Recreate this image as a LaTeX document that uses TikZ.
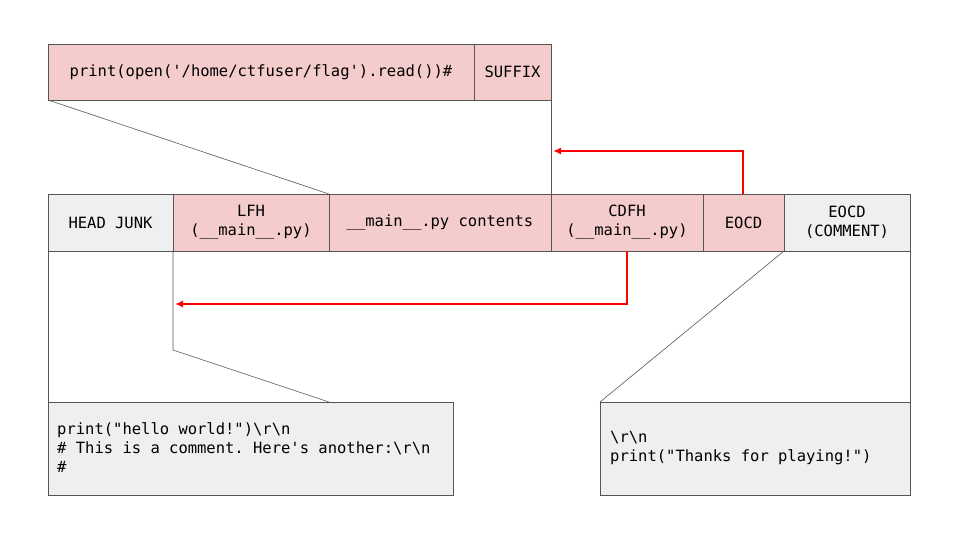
\documentclass[tikz,border=0pt]{standalone}
\usepackage{fontspec}
\setmonofont{DejaVu Sans Mono}
\usetikzlibrary{arrows.meta}
\definecolor{pk}{HTML}{F4CCCC}
\definecolor{gr}{HTML}{EFEFEF}
\definecolor{ln}{HTML}{555555}
\begin{document}
\begin{tikzpicture}[x=1pt,y=-1pt,
  cell/.style={draw=ln,line width=0.6pt,font=\ttfamily\fontsize{15.5}{19}\selectfont,align=center},
  thin/.style={draw=ln,line width=0.6pt},
  red/.style={draw=red,line width=1.6pt,-{Latex[length=8pt,width=7pt]}}]
\useasboundingbox (0,0) rectangle (960,540);
% top box
\path[cell,fill=pk] (48,44) rectangle (474,100) node[midway,draw=none] (t1) {print(open('/home/ctfuser/flag').read())\#};
\path[cell,fill=pk] (474,44) rectangle (551,100) node[midway,draw=none] (t2) {SUFFIX};
% middle row
\path[cell,fill=gr] (48,194) rectangle (173,251) node[midway,draw=none] (m1) {HEAD JUNK};
\path[cell,fill=pk] (173,194) rectangle (329,251) node[midway,draw=none] (m2) {LFH\\(\_\_main\_\_.py)};
\path[cell,fill=pk] (329,194) rectangle (551,251) node[midway,draw=none] (m3) {\_\_main\_\_.py contents};
\path[cell,fill=pk] (551,194) rectangle (703,251) node[midway,draw=none] (m4) {CDFH\\(\_\_main\_\_.py)};
\path[cell,fill=pk] (703,194) rectangle (784,251) node[midway,draw=none] (m5) {EOCD};
\path[cell,fill=gr] (784,194) rectangle (910,251) node[midway,draw=none] (m6) {EOCD\\(COMMENT)};
% bottom boxes
\path[cell,fill=gr] (48,402) rectangle (453,495);
\node[font=\ttfamily\fontsize{15.5}{19}\selectfont,align=left,anchor=north west,inner sep=0pt] (b1) at (57,422) {print("hello world!")\textbackslash r\textbackslash n\\\# This is a comment. Here's another:\textbackslash r\textbackslash n\\\#};
\path[cell,fill=gr] (600,402) rectangle (910,495);
\node[font=\ttfamily\fontsize{15.5}{19}\selectfont,align=left,anchor=north west,inner sep=0pt] (b2) at (610,431) {\textbackslash r\textbackslash n\\print("Thanks for playing!")};
% zoom lines
\coordinate (z1) at (48,100); \coordinate (z2) at (329,194);
\draw[thin] (z1) -- (z2);
\coordinate (z3) at (551,100); \coordinate (z4) at (551,194);
\draw[thin] (z3) -- (z4);
\coordinate (z5) at (173,251); \coordinate (z6) at (173,350); \coordinate (z7) at (329,402);
\draw[thin] (z5) -- (z6) -- (z7);
\coordinate (z8) at (48,251); \coordinate (z9) at (48,402);
\draw[thin] (z8) -- (z9);
\coordinate (z10) at (784,251); \coordinate (z11) at (600,402);
\draw[thin] (z10) -- (z11);
\coordinate (z12) at (910,251); \coordinate (z13) at (910,402);
\draw[thin] (z12) -- (z13);
% red arrows
\coordinate (r1) at (743,194); \coordinate (r2) at (553,151);
\draw[red] (r1) |- (r2);
\coordinate (r3) at (627,251); \coordinate (r4) at (175,304);
\draw[red] (r3) |- (r4);
\end{tikzpicture}
\end{document}
